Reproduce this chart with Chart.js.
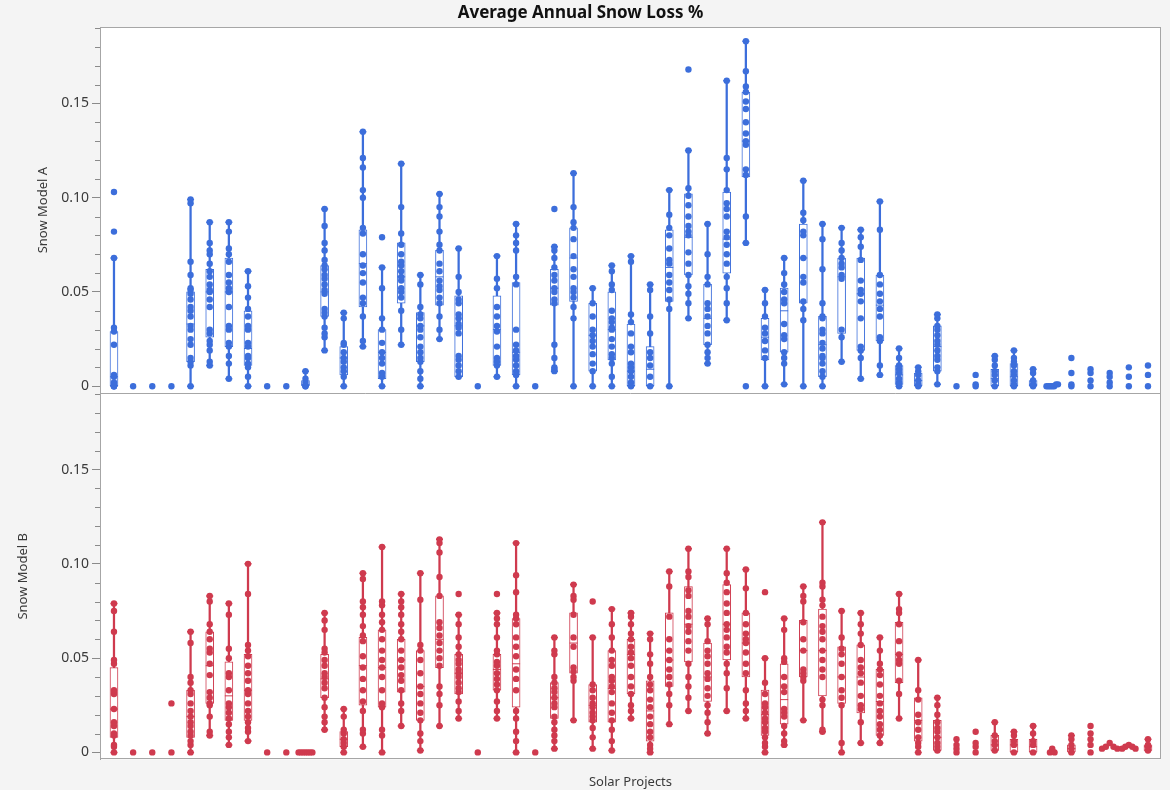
<!DOCTYPE html>
<html>
<head>
<meta charset="utf-8">
<script src="https://cdn.jsdelivr.net/npm/chart.js@4.4.0/dist/chart.umd.min.js"></script>
<style>
  html, body { margin: 0; padding: 0; background: #fff; }
  #wrap { width: 1170px; height: 790px; }
</style>
</head>
<body>
<div id="wrap"><canvas id="snowChart" width="1170" height="790"></canvas></div>
<script>
// 55 solar projects along the x axis (no labels in the original)
const projectCount = 55
const yTicks = [0, 0.05, 0.1, 0.15]
const minorTicks = [0.01, 0.02, 0.03, 0.04, 0.06, 0.07, 0.08, 0.09, 0.11, 0.12, 0.13, 0.14, 0.16, 0.17, 0.18, 0.19]

// Snow Model A - individual project values
const pointsA = [
  [0, 0, 0, 0.001, 0.002, 0.005, 0.006, 0.022, 0.029, 0.031, 0.068, 0.082, 0.103],
  [0], [0], [0],
  [0, 0.011, 0.013, 0.015, 0.022, 0.025, 0.03, 0.032, 0.037, 0.04, 0.042, 0.046, 0.049, 0.051, 0.052, 0.059, 0.066, 0.097, 0.099],
  [0.011, 0.013, 0.019, 0.022, 0.024, 0.028, 0.03, 0.042, 0.046, 0.05, 0.051, 0.054, 0.058, 0.061, 0.065, 0.07, 0.072, 0.076, 0.087],
  [0.004, 0.012, 0.016, 0.021, 0.023, 0.03, 0.032, 0.042, 0.05, 0.052, 0.055, 0.059, 0.066, 0.07, 0.073, 0.082, 0.087],
  [0, 0.005, 0.01, 0.012, 0.015, 0.016, 0.021, 0.023, 0.03, 0.032, 0.037, 0.041, 0.047, 0.053, 0.061],
  [0], [0],
  [0, 0, 0.002, 0.004, 0.008],
  [0.019, 0.026, 0.028, 0.031, 0.037, 0.039, 0.041, 0.049, 0.051, 0.054, 0.057, 0.059, 0.062, 0.064, 0.067, 0.072, 0.076, 0.085, 0.094],
  [0, 0.005, 0.008, 0.01, 0.013, 0.015, 0.018, 0.022, 0.023, 0.036, 0.039],
  [0.021, 0.024, 0.037, 0.044, 0.047, 0.055, 0.06, 0.064, 0.07, 0.081, 0.084, 0.1, 0.104, 0.116, 0.121, 0.135],
  [0, 0.005, 0.007, 0.012, 0.015, 0.018, 0.023, 0.03, 0.036, 0.052, 0.063, 0.079],
  [0.022, 0.03, 0.04, 0.047, 0.05, 0.052, 0.056, 0.058, 0.061, 0.064, 0.066, 0.07, 0.075, 0.081, 0.095, 0.118],
  [0, 0.004, 0.008, 0.013, 0.015, 0.018, 0.021, 0.026, 0.03, 0.032, 0.036, 0.038, 0.042, 0.054, 0.059],
  [0.025, 0.03, 0.037, 0.044, 0.047, 0.051, 0.053, 0.056, 0.061, 0.065, 0.072, 0.075, 0.082, 0.09, 0.095, 0.102],
  [0.005, 0.008, 0.011, 0.014, 0.016, 0.028, 0.031, 0.033, 0.036, 0.038, 0.044, 0.046, 0.05, 0.058, 0.073],
  [0],
  [0.005, 0.011, 0.013, 0.015, 0.021, 0.029, 0.032, 0.037, 0.042, 0.052, 0.057, 0.069],
  [0, 0.006, 0.008, 0.011, 0.014, 0.016, 0.019, 0.022, 0.03, 0.054, 0.058, 0.072, 0.076, 0.08, 0.086],
  [0],
  [0.008, 0.009, 0.01, 0.015, 0.022, 0.044, 0.046, 0.05, 0.052, 0.056, 0.059, 0.063, 0.068, 0.072, 0.074, 0.094],
  [0, 0.036, 0.042, 0.047, 0.05, 0.052, 0.058, 0.062, 0.069, 0.078, 0.084, 0.087, 0.095, 0.113],
  [0, 0.008, 0.012, 0.017, 0.021, 0.024, 0.027, 0.03, 0.037, 0.044, 0.052],
  [0, 0.005, 0.012, 0.015, 0.017, 0.021, 0.025, 0.03, 0.031, 0.034, 0.036, 0.04, 0.051, 0.054, 0.061, 0.064],
  [0, 0.002, 0.005, 0.008, 0.01, 0.012, 0.018, 0.021, 0.028, 0.034, 0.038, 0.066, 0.069],
  [0, 0.005, 0.011, 0.015, 0.018, 0.028, 0.037, 0.051, 0.054],
  [0, 0.041, 0.046, 0.051, 0.055, 0.059, 0.065, 0.067, 0.073, 0.08, 0.084, 0.091, 0.104],
  [0.036, 0.044, 0.049, 0.053, 0.059, 0.065, 0.071, 0.08, 0.082, 0.085, 0.09, 0.096, 0.101, 0.105, 0.125, 0.168],
  [0.012, 0.015, 0.018, 0.022, 0.028, 0.032, 0.037, 0.041, 0.044, 0.054, 0.058, 0.07, 0.086],
  [0.035, 0.044, 0.052, 0.058, 0.065, 0.07, 0.075, 0.079, 0.082, 0.09, 0.094, 0.097, 0.104, 0.115, 0.121, 0.162],
  [0, 0.076, 0.09, 0.112, 0.115, 0.128, 0.13, 0.134, 0.14, 0.147, 0.151, 0.156, 0.159, 0.167, 0.183],
  [0, 0.015, 0.019, 0.024, 0.028, 0.031, 0.037, 0.044, 0.051],
  [0.001, 0.012, 0.015, 0.018, 0.025, 0.027, 0.033, 0.044, 0.046, 0.05, 0.054, 0.06, 0.068],
  [0, 0.035, 0.041, 0.045, 0.055, 0.058, 0.068, 0.08, 0.082, 0.088, 0.092, 0.109],
  [0, 0.005, 0.008, 0.012, 0.015, 0.016, 0.02, 0.023, 0.028, 0.03, 0.036, 0.037, 0.044, 0.062, 0.078, 0.086],
  [0.013, 0.026, 0.03, 0.057, 0.059, 0.063, 0.065, 0.068, 0.072, 0.076, 0.084],
  [0.004, 0.015, 0.019, 0.021, 0.036, 0.045, 0.049, 0.051, 0.056, 0.067, 0.074, 0.079, 0.083],
  [0.006, 0.011, 0.024, 0.026, 0.037, 0.041, 0.045, 0.049, 0.054, 0.059, 0.083, 0.098],
  [0, 0.001, 0.002, 0.004, 0.007, 0.009, 0.011, 0.015, 0.02],
  [0, 0.001, 0.003, 0.006, 0.008, 0.01],
  [0.001, 0.008, 0.01, 0.014, 0.016, 0.019, 0.022, 0.024, 0.027, 0.03, 0.032, 0.036, 0.038],
  [0],
  [0, 0.001, 0.006],
  [0, 0.003, 0.006, 0.008, 0.011, 0.014, 0.016],
  [0, 0.001, 0.003, 0.006, 0.008, 0.011, 0.013, 0.015, 0.019],
  [0, 0.001, 0.003, 0.007, 0.009],
  [0, 0, 0, 0, 0, 0.001, 0.001],
  [0, 0.001, 0.007, 0.015],
  [0, 0.003, 0.007, 0.009],
  [0, 0.002, 0.005, 0.007],
  [0, 0.005, 0.01],
  [0, 0.006, 0.011]
]
// horizontal spread of overlapping dots (in project units)
const spreadA = { 49: [-0.3, -0.2, -0.1, 0, 0.1, 0.2, 0.3] }

// Snow Model A - box plot summaries (null = no box drawn)
const q1A = [0, null, null, null, 0.013, 0.026, 0.021, 0.011, null, null, 0, 0.037, 0.006, 0.042, 0.004, 0.044, 0.013, 0.043, 0.005, null, 0.011, 0.006, null, 0.043, 0.045, 0.008, 0.014, 0, 0, 0.045, 0.059, 0.022, 0.06, 0.111, 0.014, 0.018, 0.044, 0.005, 0.028, 0.019, 0.024, 0.001, 0, 0.008, null, null, 0, 0, 0, null, null, null, null, null, null]
const medA = [0.005, null, null, null, 0.033, 0.05, 0.05, 0.02, null, null, 0.001, 0.05, 0.015, 0.065, 0.018, 0.058, 0.032, 0.058, 0.032, null, 0.03, 0.018, null, 0.052, 0.068, 0.027, 0.03, 0.008, 0.009, 0.063, 0.079, 0.036, 0.078, 0.13, 0.026, 0.04, 0.068, 0.022, 0.058, 0.049, 0.043, 0.006, 0.003, 0.021, null, null, 0.004, 0.005, 0.001, null, null, null, null, null, null]
const q3A = [0.029, null, null, null, 0.05, 0.062, 0.068, 0.04, null, null, 0.003, 0.064, 0.021, 0.083, 0.03, 0.076, 0.039, 0.072, 0.048, null, 0.048, 0.055, null, 0.062, 0.084, 0.044, 0.05, 0.033, 0.021, 0.083, 0.102, 0.054, 0.103, 0.156, 0.036, 0.052, 0.086, 0.037, 0.068, 0.068, 0.059, 0.011, 0.007, 0.032, null, null, 0.009, 0.012, 0.003, null, null, null, null, null, null]
const loA = [0, null, null, null, 0, 0.011, 0.004, 0, null, null, 0, 0.019, 0, 0.021, 0, 0.022, 0, 0.025, 0.005, null, 0.005, 0, null, 0.008, 0, 0, 0, 0, 0, 0, 0.036, 0.012, 0.035, 0.076, 0, 0.001, 0, 0, 0.013, 0.004, 0.006, 0, 0, 0.001, null, null, 0, 0, 0, null, null, null, null, null, null]
const hiA = [0.068, null, null, null, 0.099, 0.087, 0.087, 0.061, null, null, 0.008, 0.094, 0.039, 0.135, 0.063, 0.118, 0.059, 0.102, 0.073, null, 0.069, 0.086, null, 0.074, 0.113, 0.052, 0.064, 0.069, 0.054, 0.104, 0.125, 0.086, 0.162, 0.183, 0.051, 0.068, 0.109, 0.086, 0.084, 0.083, 0.098, 0.02, 0.01, 0.038, null, null, 0.016, 0.019, 0.009, null, null, null, null, null, null]

// Snow Model B - individual project values
const pointsB = [
  [0, 0.003, 0.004, 0.009, 0.01, 0.014, 0.016, 0.023, 0.031, 0.032, 0.033, 0.047, 0.049, 0.064, 0.075, 0.079],
  [0], [0],
  [0, 0.026],
  [0, 0.004, 0.006, 0.009, 0.011, 0.014, 0.016, 0.019, 0.022, 0.026, 0.031, 0.033, 0.037, 0.04, 0.058, 0.064],
  [0.009, 0.011, 0.019, 0.025, 0.026, 0.029, 0.032, 0.041, 0.047, 0.053, 0.055, 0.06, 0.064, 0.068, 0.08, 0.083],
  [0.004, 0.008, 0.011, 0.015, 0.018, 0.021, 0.024, 0.026, 0.033, 0.04, 0.042, 0.05, 0.055, 0.073, 0.079],
  [0.006, 0.011, 0.013, 0.016, 0.019, 0.022, 0.026, 0.031, 0.033, 0.038, 0.042, 0.046, 0.051, 0.054, 0.057, 0.084, 0.1],
  [0], [0],
  [0, 0, 0, 0, 0, 0, 0],
  [0.012, 0.016, 0.019, 0.024, 0.029, 0.034, 0.037, 0.04, 0.042, 0.046, 0.049, 0.053, 0.055, 0.065, 0.07, 0.074],
  [0, 0.003, 0.005, 0.007, 0.01, 0.012, 0.019, 0.023],
  [0.003, 0.01, 0.012, 0.022, 0.027, 0.033, 0.039, 0.045, 0.051, 0.059, 0.062, 0.067, 0.073, 0.077, 0.08, 0.092, 0.095],
  [0, 0.009, 0.012, 0.024, 0.026, 0.033, 0.04, 0.045, 0.049, 0.054, 0.06, 0.065, 0.069, 0.073, 0.078, 0.08, 0.109],
  [0.014, 0.022, 0.026, 0.033, 0.038, 0.041, 0.045, 0.049, 0.054, 0.06, 0.064, 0.068, 0.073, 0.077, 0.08, 0.084],
  [0.001, 0.006, 0.01, 0.017, 0.021, 0.026, 0.031, 0.035, 0.042, 0.049, 0.054, 0.057, 0.081, 0.095],
  [0.014, 0.025, 0.031, 0.035, 0.046, 0.05, 0.054, 0.058, 0.062, 0.066, 0.069, 0.083, 0.093, 0.106, 0.111, 0.113],
  [0.018, 0.022, 0.027, 0.032, 0.034, 0.037, 0.04, 0.042, 0.044, 0.047, 0.049, 0.052, 0.056, 0.061, 0.068, 0.073, 0.084],
  [0],
  [0.018, 0.022, 0.027, 0.033, 0.036, 0.039, 0.042, 0.046, 0.048, 0.052, 0.054, 0.061, 0.068, 0.071, 0.074, 0.084],
  [0, 0.006, 0.011, 0.018, 0.022, 0.033, 0.039, 0.044, 0.051, 0.056, 0.061, 0.068, 0.071, 0.073, 0.085, 0.094, 0.111],
  [0],
  [0.002, 0.006, 0.009, 0.012, 0.016, 0.019, 0.024, 0.026, 0.029, 0.032, 0.034, 0.037, 0.04, 0.052, 0.054, 0.061],
  [0.017, 0.038, 0.04, 0.043, 0.045, 0.056, 0.061, 0.073, 0.081, 0.083, 0.089],
  [0.002, 0.008, 0.013, 0.017, 0.019, 0.021, 0.024, 0.026, 0.029, 0.033, 0.036, 0.061, 0.08],
  [0.001, 0.006, 0.012, 0.017, 0.021, 0.026, 0.032, 0.035, 0.038, 0.04, 0.046, 0.049, 0.054, 0.061, 0.068, 0.076],
  [0.018, 0.022, 0.025, 0.031, 0.035, 0.04, 0.046, 0.05, 0.053, 0.056, 0.06, 0.063, 0.068, 0.072, 0.074],
  [0, 0.002, 0.004, 0.008, 0.011, 0.015, 0.019, 0.024, 0.028, 0.033, 0.036, 0.04, 0.047, 0.052, 0.06, 0.063],
  [0.015, 0.025, 0.031, 0.036, 0.04, 0.044, 0.049, 0.054, 0.06, 0.072, 0.088, 0.096],
  [0.022, 0.029, 0.035, 0.04, 0.047, 0.054, 0.059, 0.064, 0.067, 0.072, 0.075, 0.083, 0.086, 0.093, 0.096, 0.108],
  [0.01, 0.016, 0.021, 0.025, 0.03, 0.034, 0.039, 0.042, 0.047, 0.051, 0.054, 0.059, 0.068, 0.071],
  [0.022, 0.034, 0.042, 0.047, 0.053, 0.056, 0.061, 0.065, 0.068, 0.074, 0.079, 0.085, 0.09, 0.095, 0.108],
  [0.018, 0.022, 0.026, 0.033, 0.042, 0.047, 0.053, 0.058, 0.06, 0.063, 0.068, 0.074, 0.087, 0.097],
  [0, 0.003, 0.005, 0.008, 0.011, 0.013, 0.016, 0.018, 0.021, 0.024, 0.026, 0.031, 0.037, 0.05, 0.085],
  [0.004, 0.006, 0.01, 0.014, 0.019, 0.021, 0.023, 0.032, 0.035, 0.04, 0.048, 0.05, 0.065, 0.071],
  [0.017, 0.038, 0.04, 0.042, 0.044, 0.054, 0.06, 0.069, 0.08, 0.083, 0.088],
  [0.011, 0.012, 0.025, 0.028, 0.04, 0.044, 0.049, 0.054, 0.06, 0.064, 0.067, 0.072, 0.078, 0.081, 0.088, 0.09, 0.122],
  [0, 0.005, 0.025, 0.029, 0.033, 0.04, 0.047, 0.052, 0.055, 0.061, 0.075],
  [0.005, 0.016, 0.023, 0.025, 0.03, 0.037, 0.042, 0.045, 0.049, 0.057, 0.063, 0.068, 0.074],
  [0.005, 0.009, 0.012, 0.015, 0.019, 0.022, 0.026, 0.03, 0.036, 0.041, 0.044, 0.047, 0.054, 0.061],
  [0.018, 0.031, 0.038, 0.047, 0.049, 0.052, 0.059, 0.068, 0.074, 0.076, 0.084],
  [0, 0.003, 0.005, 0.008, 0.012, 0.016, 0.02, 0.028, 0.033, 0.049],
  [0.001, 0.003, 0.005, 0.008, 0.011, 0.013, 0.016, 0.02, 0.025, 0.029],
  [0, 0.002, 0.004, 0.007],
  [0, 0.003, 0.005, 0.011],
  [0.001, 0.004, 0.006, 0.009, 0.016],
  [0, 0.004, 0.006, 0.009, 0.011],
  [0, 0.004, 0.006, 0.01, 0.014],
  [0, 0, 0.001, 0.002],
  [0, 0.002, 0.004, 0.007, 0.009],
  [0, 0.004, 0.007, 0.01, 0.014],
  [0.002, 0.002, 0.003, 0.005, 0.003],
  [0.002, 0.002, 0.003, 0.004, 0.003],
  [0.001, 0.003, 0.004, 0.007]
]
const spreadB = {
  10: [-0.36, -0.24, -0.12, 0, 0.12, 0.24, 0.36],
  49: [-0.12, 0.12, 0, 0],
  52: [-0.4, 0.4, -0.2, 0, 0.2],
  53: [-0.35, 0.35, -0.18, 0, 0.18]
}

// Snow Model B - box plot summaries
const q1B = [0.008, null, null, null, 0.008, 0.026, 0.017, 0.017, null, null, null, 0.029, 0.003, 0.025, 0.024, 0.032, 0.017, 0.045, 0.031, null, 0.033, 0.024, null, 0.018, 0.042, 0.016, 0.016, 0.031, 0.006, 0.035, 0.048, 0.027, 0.049, 0.04, 0.009, 0.015, 0.04, 0.03, 0.026, 0.021, 0.009, 0.037, 0.006, 0.001, null, null, 0.001, 0, 0, null, 0, null, null, null, 0.001]
const medB = [0.023, null, null, null, 0.019, 0.046, 0.03, 0.033, null, null, null, 0.039, 0.007, 0.046, 0.045, 0.049, 0.035, 0.06, 0.042, null, 0.044, 0.047, null, 0.029, 0.058, 0.025, 0.034, 0.052, 0.022, 0.049, 0.068, 0.04, 0.068, 0.058, 0.02, 0.028, 0.054, 0.054, 0.04, 0.04, 0.027, 0.052, 0.017, 0.008, null, null, 0.004, 0.004, 0.003, null, 0.002, null, null, null, 0.003]
const q3B = [0.045, null, null, null, 0.033, 0.064, 0.048, 0.052, null, null, null, 0.052, 0.011, 0.061, 0.065, 0.06, 0.054, 0.083, 0.052, null, 0.052, 0.071, null, 0.037, 0.074, 0.036, 0.054, 0.06, 0.038, 0.074, 0.088, 0.058, 0.089, 0.074, 0.033, 0.047, 0.07, 0.076, 0.056, 0.057, 0.044, 0.069, 0.029, 0.017, null, null, 0.009, 0.007, 0.007, null, 0.004, null, null, null, 0.004]
const loB = [0, null, null, null, 0, 0.009, 0.004, 0.006, null, null, null, 0.012, 0, 0.003, 0, 0.014, 0.001, 0.014, 0.018, null, 0.018, 0, null, 0.002, 0.017, 0.002, 0.001, 0.018, 0, 0.015, 0.022, 0.01, 0.022, 0.018, 0, 0.004, 0.017, 0.011, 0, 0.005, 0.005, 0.018, 0, 0.001, null, null, 0.001, 0, 0, null, 0, null, null, null, 0.001]
const hiB = [0.079, null, null, null, 0.064, 0.083, 0.079, 0.1, null, null, null, 0.074, 0.023, 0.095, 0.109, 0.084, 0.095, 0.113, 0.073, null, 0.074, 0.111, null, 0.061, 0.089, 0.061, 0.076, 0.074, 0.063, 0.096, 0.108, 0.071, 0.108, 0.097, 0.05, 0.071, 0.088, 0.122, 0.075, 0.074, 0.061, 0.084, 0.049, 0.029, null, null, 0.016, 0.011, 0.014, null, 0.009, null, null, null, 0.007]

const blue = '#3c6edb'
const red = '#cf3a4e'
const uiFont = 'Noto Sans'

function panelDatasets(axis, color, pts, spread, q1, med, q3, lo, hi) {
  const dots = []
  const boxes = []
  const whiskers = []
  const caps = []
  const medians = []
  pts.forEach((vals, i) => {
    const dx = spread[i] || []
    vals.forEach((v, k) => dots.push({ x: i + (dx[k] || 0), y: v }))
    if (q1[i] === null) return
    boxes.push({ x: i, y: [q1[i], q3[i]] })
    whiskers.push({ x: i, y: [lo[i], hi[i]] })
    caps.push({ x: i, y: lo[i] }, { x: i, y: hi[i] })
    medians.push({ x: i, y: med[i] })
  })
  return [
    { type: 'bar', data: whiskers, yAxisID: axis, order: 5, grouped: false, barThickness: 1.6, backgroundColor: color, borderWidth: 0 },
    { type: 'scatter', data: caps, yAxisID: axis, order: 4, pointStyle: 'line', pointRadius: 3.5, borderColor: color, borderWidth: 1.5 },
    { type: 'bar', data: boxes, yAxisID: axis, order: 3, grouped: false, barThickness: 8, backgroundColor: '#ffffff', borderColor: color, borderWidth: 1, borderSkipped: false },
    { type: 'scatter', data: medians, yAxisID: axis, order: 2, pointStyle: 'line', pointRadius: 4, borderColor: color, borderWidth: 1 },
    { type: 'scatter', data: dots, yAxisID: axis, order: 1, pointRadius: 3.2, backgroundColor: color, borderWidth: 0 }
  ]
}

function panelAxis(text, titlePad) {
  return {
    type: 'linear',
    position: 'left',
    stack: 'panels',
    stackWeight: 1,
    min: -0.0037,
    max: 0.1905,
    afterFit: (scale) => { scale.width = 100 },
    afterBuildTicks: (scale) => { scale.ticks = yTicks.map((v) => ({ value: v })) },
    grid: { drawOnChartArea: false, tickLength: 8, color: '#8a8a8a' },
    border: { display: true, color: '#a0a0a0' },
    ticks: {
      padding: 3,
      color: '#3a3a3a',
      font: { family: uiFont, size: 14 },
      callback: (v) => (v === 0 ? '0' : v.toFixed(2))
    },
    title: {
      display: true,
      text: text,
      color: '#3a3a3a',
      font: { family: uiFont, size: 13 },
      padding: { top: titlePad, bottom: 0 }
    }
  }
}

// frame, panel divider and minor ticks
const framePlugin = {
  id: 'frame',
  beforeDraw(chart) {
    const { ctx, chartArea: a } = chart
    ctx.save()
    ctx.fillStyle = '#f4f4f4'
    ctx.fillRect(0, 0, chart.width, chart.height)
    ctx.fillStyle = '#ffffff'
    ctx.fillRect(a.left, a.top, a.right - a.left, a.bottom - a.top)
    ctx.restore()
  },
  afterDraw(chart) {
    const { ctx, chartArea: a, scales } = chart
    ctx.save()
    ctx.strokeStyle = '#a6a6a6'
    ctx.lineWidth = 1
    ctx.strokeRect(Math.round(a.left) + 0.5, Math.round(a.top) + 0.5, Math.round(a.right - a.left) - 1, Math.round(a.bottom - a.top) - 1)
    const split = Math.round(scales.yA.bottom) + 0.5
    ctx.beginPath()
    ctx.moveTo(a.left, split)
    ctx.lineTo(a.right, split)
    ctx.stroke()
    ctx.strokeStyle = '#8a8a8a'
    for (const id of ['yA', 'yB']) {
      const s = scales[id]
      for (const v of minorTicks) {
        const y = Math.round(s.getPixelForValue(v)) + 0.5
        ctx.beginPath()
        ctx.moveTo(s.right - 5, y)
        ctx.lineTo(s.right, y)
        ctx.stroke()
      }
    }
    ctx.restore()
  }
}

const ctx = document.getElementById('snowChart')
new Chart(ctx, {
  type: 'scatter',
  data: {
    datasets: [
      ...panelDatasets('yA', blue, pointsA, spreadA, q1A, medA, q3A, loA, hiA),
      ...panelDatasets('yB', red, pointsB, spreadB, q1B, medB, q3B, loB, hiB)
    ]
  },
  options: {
    responsive: false,
    animation: false,
    devicePixelRatio: 1,
    events: [],
    layout: { padding: { top: 0, right: 9, bottom: 0, left: 0 } },
    plugins: {
      legend: { display: false },
      tooltip: { enabled: false },
      title: {
        display: true,
        text: 'Average Annual Snow Loss %',
        color: '#111',
        font: { family: uiFont, size: 17, weight: 'bold' },
        padding: { top: 3, bottom: 3.6 }
      }
    },
    scales: {
      x: {
        type: 'linear',
        offset: false,
        min: -0.73,
        max: projectCount - 0.32,
        grid: { display: false, offset: false },
        border: { display: false },
        ticks: { display: false },
        title: {
          display: true,
          text: 'Solar Projects',
          color: '#3a3a3a',
          font: { family: uiFont, size: 13 },
          padding: { top: 7, bottom: 0 }
        }
      },
      yB: panelAxis('Snow Model B', 15),
      yA: panelAxis('Snow Model A', 35)
    }
  },
  plugins: [framePlugin]
})
</script>
</body>
</html>
